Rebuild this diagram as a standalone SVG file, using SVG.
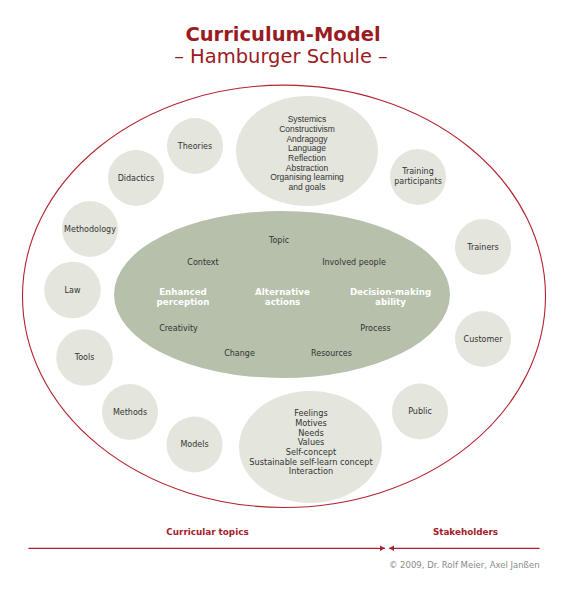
<svg xmlns="http://www.w3.org/2000/svg" width="567" height="593" viewBox="0 0 567 593">
<defs>
<style>
.t{font-family:"DejaVu Sans",Verdana,sans-serif;font-size:8px;fill:#333;text-anchor:middle}
.tt{font-family:"Liberation Sans",Arial,sans-serif;font-size:8.5px;fill:#333;text-anchor:middle}
.tb{font-family:"DejaVu Sans",Verdana,sans-serif;font-size:8.2px;fill:#333;text-anchor:middle}
.w{font-family:"DejaVu Sans",Verdana,sans-serif;font-size:8.7px;font-weight:bold;fill:#fff;text-anchor:middle}
.c{fill:#e4e6de}
.r{font-family:"DejaVu Sans",Verdana,sans-serif;font-size:8.8px;font-weight:bold;fill:#a3202b;text-anchor:middle}
.ln{stroke:#a8242f;stroke-width:1.2;fill:none}
</style>
<marker id="ah" viewBox="0 0 5 6" refX="5" refY="3" markerWidth="5" markerHeight="6" markerUnits="userSpaceOnUse" orient="auto">
<path d="M0,0.3 L5,3 L0,5.7 Z" fill="#a8242f"/>
</marker>
</defs>
<rect width="567" height="593" fill="#fff"/>
<g id="title">
<text x="283" y="41" style="font-family:'DejaVu Sans',Verdana,sans-serif;font-size:19.5px;font-weight:bold;fill:#9a1b22;text-anchor:middle">Curriculum-Model</text>
<text x="281" y="63" style="font-family:'DejaVu Sans',Verdana,sans-serif;font-size:19.5px;fill:#9a1b22;text-anchor:middle">– Hamburger Schule –</text>
</g>
<g id="outer">
<ellipse cx="284" cy="296.3" rx="261.5" ry="211.2" fill="none" stroke="#b3232f" stroke-width="1.1"/>
</g>
<g id="core">
<ellipse cx="282" cy="294.5" rx="168" ry="83.5" fill="#b6c0aa"/>
<text class="t" x="279" y="242.8">Topic</text>
<text class="t" x="203" y="264.5">Context</text>
<text class="t" x="354" y="264.5">Involved people</text>
<text class="w" x="183" y="294.8">Enhanced</text>
<text class="w" x="183" y="304.8">perception</text>
<text class="w" x="282.5" y="294.8">Alternative</text>
<text class="w" x="282.5" y="304.8">actions</text>
<text class="w" x="390.5" y="294.8">Decision-making</text>
<text class="w" x="390.5" y="304.8">ability</text>
<text class="t" x="178.5" y="330.5">Creativity</text>
<text class="t" x="375.5" y="331">Process</text>
<text class="t" x="239.5" y="356">Change</text>
<text class="t" x="331.5" y="355.5">Resources</text>
</g>
<g id="top-topics">
<ellipse class="c" cx="307" cy="151" rx="71" ry="55"/>
<text class="tt" x="307" y="122.2">Systemics</text>
<text class="tt" x="307" y="131.9">Constructivism</text>
<text class="tt" x="307" y="141.6">Andragogy</text>
<text class="tt" x="307" y="151.3">Language</text>
<text class="tt" x="307" y="161">Reflection</text>
<text class="tt" x="307" y="170.7">Abstraction</text>
<text class="tt" x="307" y="180.4">Organising learning</text>
<text class="tt" x="307" y="190.1">and goals</text>
</g>
<g id="bottom-topics">
<ellipse class="c" cx="310.5" cy="447" rx="71.5" ry="56"/>
<text class="tb" x="311" y="416.2">Feelings</text>
<text class="tb" x="311" y="425.8">Motives</text>
<text class="tb" x="311" y="435.5">Needs</text>
<text class="tb" x="311" y="445.2">Values</text>
<text class="tb" x="311" y="454.8">Self-concept</text>
<text class="tb" x="311" y="464.5">Sustainable self-learn concept</text>
<text class="tb" x="311" y="474.1">Interaction</text>
</g>
<g id="theories"><circle class="c" cx="195" cy="146" r="28"/><text class="t" x="195" y="148.8">Theories</text></g>
<g id="didactics"><circle class="c" cx="136" cy="178" r="28"/><text class="t" x="136" y="180.8">Didactics</text></g>
<g id="methodology"><circle class="c" cx="90" cy="229" r="28"/><text class="t" x="90" y="231.8">Methodology</text></g>
<g id="law"><circle class="c" cx="72.5" cy="290" r="28.3"/><text class="t" x="72.5" y="293">Law</text></g>
<g id="tools"><circle class="c" cx="84.5" cy="357.5" r="28.3"/><text class="t" x="84.5" y="359.8">Tools</text></g>
<g id="methods"><circle class="c" cx="130" cy="412" r="28"/><text class="t" x="130" y="414.8">Methods</text></g>
<g id="models"><circle class="c" cx="194.5" cy="444.5" r="28"/><text class="t" x="194.5" y="447.3">Models</text></g>
<g id="training-participants"><circle class="c" cx="418" cy="177" r="28"/><text class="t" x="418" y="173.5">Training</text><text class="t" x="418" y="183.5">participants</text></g>
<g id="trainers"><circle class="c" cx="483" cy="247" r="28"/><text class="t" x="483" y="249.8">Trainers</text></g>
<g id="customer"><circle class="c" cx="483" cy="339" r="28"/><text class="t" x="483" y="341.8">Customer</text></g>
<g id="public"><circle class="c" cx="420" cy="411.5" r="28"/><text class="t" x="420" y="413.5">Public</text></g>
<g id="connectors">
<line class="ln" x1="28.4" y1="548.3" x2="385" y2="548.3" marker-end="url(#ah)"/>
<line class="ln" x1="539.6" y1="548.3" x2="389" y2="548.3" marker-end="url(#ah)"/>
</g>
<g id="legend">
<text class="r" x="207.5" y="534.8">Curricular topics</text>
<text class="r" x="465.5" y="534.8">Stakeholders</text>
<text x="539.6" y="568.3" style="font-family:'DejaVu Sans',Verdana,sans-serif;font-size:8.5px;fill:#8a8a8a;text-anchor:end">© 2009, Dr. Rolf Meier, Axel Janßen</text>
</g>
</svg>
